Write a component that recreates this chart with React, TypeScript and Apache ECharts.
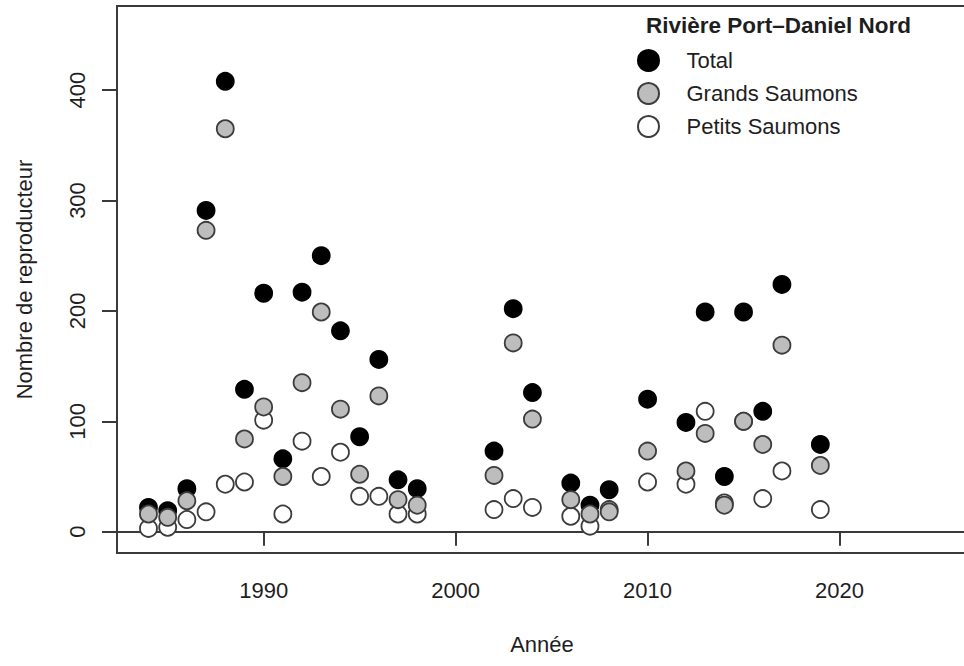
import React, { useEffect, useRef } from "react";
import * as echarts from "echarts";

const years = [1984, 1985, 1986, 1987, 1988, 1989, 1990, 1991, 1992, 1993, 1994, 1995, 1996, 1997, 1998, 2002, 2003, 2004, 2006, 2007, 2008, 2010, 2012, 2013, 2014, 2015, 2016, 2017, 2019];
const totalValues = [22, 19, 39, 291, 408, 129, 216, 66, 217, 250, 182, 86, 156, 47, 39, 73, 202, 126, 44, 24, 38, 120, 99, 199, 50, 199, 109, 224, 79];
const grandsValues = [16, 13, 28, 273, 365, 84, 113, 50, 135, 199, 111, 52, 123, 29, 24, 51, 171, 102, 29, 16, 18, 73, 55, 89, 24, 100, 79, 169, 60];
const petitsValues = [3, 4, 11, 18, 43, 45, 101, 16, 82, 50, 72, 32, 32, 16, 16, 20, 30, 22, 14, 5, 20, 45, 43, 109, 26, 100, 30, 55, 20];

const xTicks = [1990, 2000, 2010, 2020];
const yTicks = [0, 100, 200, 300, 400];

const titleText = "Rivière Port–Daniel Nord";
const seriesNames = ["Total", "Grands Saumons", "Petits Saumons"];
const xTitle = "Année";
const yTitle = "Nombre de reproducteur";

const FONT = "'Liberation Sans', Arial, sans-serif";
const TXT = "#1e1e1e";
const AX = "#3a3a3a";

export default function App() {
  const ref = useRef<HTMLDivElement>(null);
  useEffect(() => {
    if (!ref.current) return;
    const chart = echarts.init(ref.current, null, { renderer: "svg" });
    const pts = (vals: number[]) => years.map((y, i) => [y, vals[i]]);
    chart.setOption({
      animation: false,
      backgroundColor: "#ffffff",
      textStyle: { fontFamily: FONT },
      title: {
        text: titleText,
        left: 646,
        top: 14,
        padding: 0,
        textStyle: { fontFamily: FONT, fontSize: 22.5, fontWeight: "bold", color: TXT },
      },
      legend: {
        data: seriesNames,
        orient: "vertical",
        left: 637,
        top: 49,
        padding: 0,
        itemWidth: 66,
        itemHeight: 21,
        itemGap: 10,
        selectedMode: false,
        textStyle: { fontFamily: FONT, fontSize: 22, color: TXT },
      },
      grid: {
        left: 117,
        top: 6,
        bottom: 113,
        right: -3,
        show: true,
        borderColor: AX,
        borderWidth: 2,
        containLabel: false,
        outerBoundsMode: "none",
      },
      xAxis: {
        type: "value",
        min: 1982.36,
        max: 2026.64,
        name: xTitle,
        nameLocation: "middle",
        nameGap: 80,
        nameTextStyle: { fontFamily: FONT, fontSize: 22, color: TXT },
        axisLine: { show: true, lineStyle: { color: AX, width: 2 } },
        axisTick: { show: true, length: 14, lineStyle: { color: AX, width: 2 }, customValues: xTicks },
        axisLabel: {
          customValues: xTicks,
          formatter: (v: number) => String(v),
          fontFamily: FONT,
          fontSize: 22,
          color: TXT,
          margin: 26,
        },
        splitLine: { show: false },
      },
      yAxis: {
        type: "value",
        min: -19.3,
        max: 476.2,
        name: yTitle,
        nameLocation: "middle",
        nameGap: 82,
        nameRotate: 90,
        nameTextStyle: { fontFamily: FONT, fontSize: 22, color: TXT },
        axisLine: { show: true, lineStyle: { color: AX, width: 2 } },
        axisTick: { show: true, length: 15, lineStyle: { color: AX, width: 2 }, customValues: yTicks },
        axisLabel: {
          customValues: yTicks,
          formatter: (v: number) => String(v),
          rotate: 90,
          fontFamily: FONT,
          fontSize: 22,
          color: TXT,
          margin: 29,
        },
        splitLine: { show: false },
      },
      series: [
        {
          name: "Total",
          type: "scatter",
          data: pts(totalValues),
          symbol: "circle",
          symbolSize: 17,
          itemStyle: { color: "#000000", borderColor: "#000000", borderWidth: 1.8, opacity: 1 },
          z: 2,
        },
        {
          name: "Petits Saumons",
          type: "scatter",
          data: pts(petitsValues),
          symbol: "circle",
          symbolSize: 17,
          itemStyle: { color: "#ffffff", borderColor: "#3c3c3c", borderWidth: 1.8, opacity: 1 },
          z: 3,
        },
        {
          name: "Grands Saumons",
          type: "scatter",
          data: pts(grandsValues),
          symbol: "circle",
          symbolSize: 17,
          itemStyle: { color: "#bdbdbd", borderColor: "#3c3c3c", borderWidth: 1.8, opacity: 1 },
          z: 4,
        },
      ],
    });
    return () => chart.dispose();
  }, []);
  return (
    <div
      ref={ref}
      style={{ position: "fixed", left: 0, top: 0, width: 964, height: 666, background: "#fff" }}
    />
  );
}
